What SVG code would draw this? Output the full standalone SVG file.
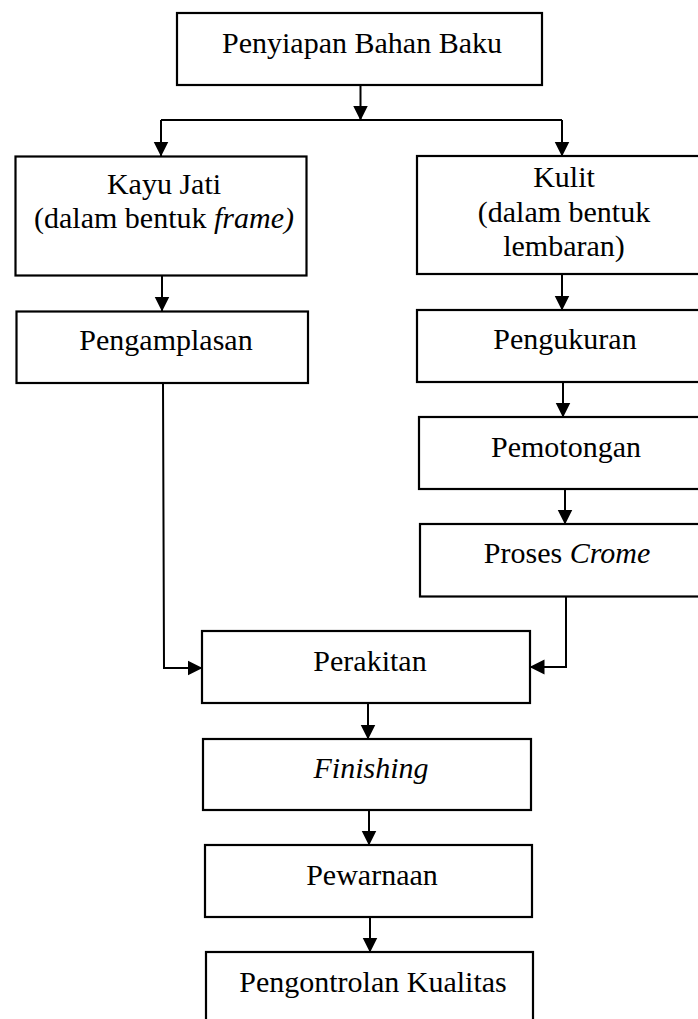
<svg xmlns="http://www.w3.org/2000/svg" width="698" height="1019" viewBox="0 0 698 1019">
<style>
.box{fill:#fff;stroke:#000;stroke-width:2.2}
.lbl{font-family:"Liberation Serif","Times New Roman",serif;font-size:30px;fill:#000;text-anchor:middle}
.it{font-style:italic}
.con{fill:none;stroke:#000;stroke-width:2}
</style>
<defs>
<marker id="arr" viewBox="0 0 15 16" refX="14.5" refY="8" markerWidth="15" markerHeight="16" markerUnits="userSpaceOnUse" orient="auto">
<path d="M0,0.5 L15,8 L0,15.5 z" fill="#000"/>
</marker>
</defs>
<rect width="698" height="1019" fill="#fff"/>
<g id="connectors">
<path class="con" d="M360.5,85 V120" marker-end="url(#arr)"/>
<path class="con" d="M161,120 H562"/>
<path class="con" d="M161,120 V156" marker-end="url(#arr)"/>
<path class="con" d="M562,120 V156" marker-end="url(#arr)"/>
<path class="con" d="M162,276 V311" marker-end="url(#arr)"/>
<path class="con" d="M562,274 V310" marker-end="url(#arr)"/>
<path class="con" d="M563,382 V417" marker-end="url(#arr)"/>
<path class="con" d="M565,489 V524" marker-end="url(#arr)"/>
<path class="con" d="M163,383 L164,668 H202" marker-end="url(#arr)"/>
<path class="con" d="M566,597 V667 H530" marker-end="url(#arr)"/>
<path class="con" d="M368,703 V739" marker-end="url(#arr)"/>
<path class="con" d="M369,810 V845" marker-end="url(#arr)"/>
<path class="con" d="M370,917 V952" marker-end="url(#arr)"/>
</g>
<g id="penyiapan">
<rect class="box" x="177" y="13" width="365" height="72"/>
<text class="lbl" x="362" y="53">Penyiapan Bahan Baku</text>
</g>
<g id="kayu">
<rect class="box" x="15.5" y="156.5" width="291" height="119"/>
<text class="lbl" x="164" y="194">Kayu Jati</text>
<text class="lbl" x="164" y="228">(dalam bentuk <tspan class="it">frame)</tspan></text>
</g>
<g id="kulit">
<rect class="box" x="417" y="156" width="300" height="118"/>
<text class="lbl" x="564" y="187">Kulit</text>
<text class="lbl" x="564" y="222">(dalam bentuk</text>
<text class="lbl" x="564" y="256">lembaran)</text>
</g>
<g id="pengamplasan">
<rect class="box" x="16.5" y="311.5" width="291.5" height="71.5"/>
<text class="lbl" x="166" y="350">Pengamplasan</text>
</g>
<g id="pengukuran">
<rect class="box" x="417" y="310" width="300" height="72"/>
<text class="lbl" x="565" y="349">Pengukuran</text>
</g>
<g id="pemotongan">
<rect class="box" x="419" y="417" width="300" height="72"/>
<text class="lbl" x="566" y="456.5">Pemotongan</text>
</g>
<g id="proses">
<rect class="box" x="420" y="524" width="300" height="72.5"/>
<text class="lbl" x="567" y="563">Proses <tspan class="it">Crome</tspan></text>
</g>
<g id="perakitan">
<rect class="box" x="202" y="631" width="328" height="72"/>
<text class="lbl" x="370" y="670.5">Perakitan</text>
</g>
<g id="finishing">
<rect class="box" x="203" y="739" width="328" height="71"/>
<text class="lbl it" x="371" y="778">Finishing</text>
</g>
<g id="pewarnaan">
<rect class="box" x="205" y="845" width="327" height="72"/>
<text class="lbl" x="372" y="885">Pewarnaan</text>
</g>
<g id="pengontrolan">
<rect class="box" x="206" y="952" width="327" height="80"/>
<text class="lbl" x="373" y="991.5">Pengontrolan Kualitas</text>
</g>
</svg>
